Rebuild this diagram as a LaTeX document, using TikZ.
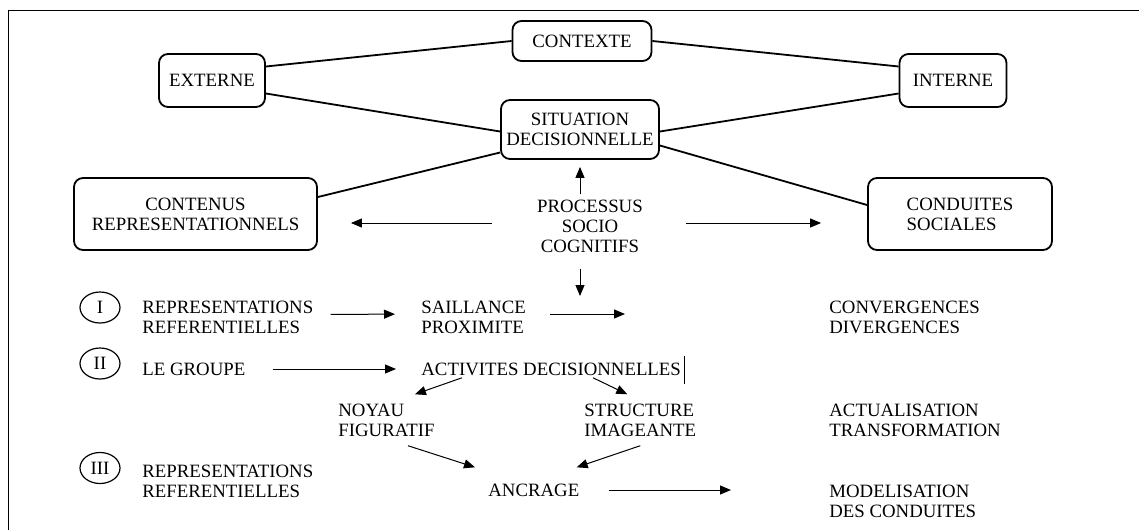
\documentclass[tikz,border=0pt]{standalone}
\usepackage{fontspec}
\setmainfont{Liberation Serif}
\usetikzlibrary{arrows.meta,shapes.geometric}
\begin{document}
\begin{tikzpicture}[x=0.5pt,y=-0.5pt,
				every node/.style={font=\fontsize{9.4}{10}\selectfont,inner sep=0pt},
				bulle/.style={draw,rounded corners=4.5pt,line width=0.9pt,align=center},
				libre/.style={align=left,anchor=west},
				chiffre/.style={draw,ellipse,line width=0.6pt,minimum width=20pt,minimum height=15.5pt},
				lien/.style={line width=0.9pt},
				fleche/.style={line width=0.5pt,-{Triangle[length=5.5pt,width=4.5pt]}}]
\useasboundingbox (0,0) rectangle (1139,530);
\draw[line width=0.5pt] (1139,10) -- (8,10) -- (8,530);
\node[bulle,minimum width=53pt,minimum height=26.5pt] (externe) at (212,80.5) {EXTERNE};
\node[bulle,minimum width=69.5pt,minimum height=20pt] (contexte) at (582,41) {CONTEXTE};
\node[bulle,minimum width=53.5pt,minimum height=26.5pt] (interne) at (953,80.5) {INTERNE};
\node[bulle,minimum width=79pt,minimum height=29.5pt] (situation) at (580,129.5) {SITUATION\\DECISIONNELLE};
\node[bulle,minimum width=121.5pt,minimum height=36pt] (contenus) at (195.5,214) {CONTENUS\\REPRESENTATIONNELS};
\node[bulle,align=left,minimum width=92pt,minimum height=36pt] (conduites) at (960,214) {CONDUITES\\SOCIALES};
\node[align=center] (processus) at (590,226) {PROCESSUS\\SOCIO\\COGNITIFS};
\draw[lien] ([yshift=7pt]externe.east) -- (contexte.west);
\draw[lien] ([yshift=-6.5pt]externe.east) -- ([yshift=-1pt]situation.west);
\draw[lien] (contexte.east) -- ([yshift=7pt]interne.west);
\draw[lien] ([yshift=-6.5pt]interne.west) -- ([yshift=-1pt]situation.east);
\draw[lien] ([yshift=8.5pt]contenus.east) -- ([yshift=-11.5pt]situation.west);
\draw[lien] ([yshift=-8pt]situation.east) -- ([yshift=4.5pt]conduites.west);
\coordinate (pg) at ([yshift=1.5pt]processus.west);
\coordinate (pd) at ([yshift=1.5pt]processus.east);
\coordinate (bas) at (580,296);
\draw[fleche,shorten <=2.5pt,shorten >=3.5pt] (processus.north -| situation.south) -- (situation.south);
\draw[fleche,shorten <=22.5pt,shorten >=16.5pt] (pg) -- (pg -| contenus.east);
\draw[fleche,shorten <=21.5pt,shorten >=23pt] (pd) -- (pd -| conduites.west);
\draw[fleche,shorten <=8pt] (processus.south -| bas) -- (bas);
\node[chiffre] (un) at (100,307.5) {I};
\node[chiffre] (deux) at (100,363.5) {II};
\node[chiffre] (trois) at (100,468) {III};
\node[libre] (rep1) at (142,317.5) {REPRESENTATIONS\\REFERENTIELLES};
\node[libre] (saillance) at (421,317) {SAILLANCE\\PROXIMITE};
\node[libre] (converg) at (829,317) {CONVERGENCES\\DIVERGENCES};
\node[libre] (groupe) at (142,369) {LE GROUPE};
\node[libre] (activites) at (421,369) {ACTIVITES DECISIONNELLES};
\node[libre] (noyau) at (338,420) {NOYAU\\FIGURATIF};
\node[libre] (structure) at (584,420) {STRUCTURE\\IMAGEANTE};
\node[libre] (actualis) at (829,420) {ACTUALISATION\\TRANSFORMATION};
\node[libre] (rep3) at (142,481) {REPRESENTATIONS\\REFERENTIELLES};
\node[libre] (ancrage) at (488,490) {ANCRAGE};
\node[libre] (modelis) at (829,501) {MODELISATION\\DES CONDUITES};
\draw[line width=0.4pt] ([xshift=1.5pt,yshift=3pt]activites.north east) -- ([xshift=1.5pt,yshift=-4pt]activites.south east);
\draw[fleche,shorten <=8.5pt,shorten >=13pt] ([yshift=1.5pt]rep1.east) -- ([yshift=1.5pt]saillance.west);
\draw[fleche,shorten <=12pt,shorten >=102pt] ([yshift=1.5pt]saillance.east) -- ([yshift=1.5pt]saillance.east -| converg.west);
\draw[fleche,shorten <=13.5pt,shorten >=12.5pt] (groupe.east) -- (activites.west);
\draw[fleche] ([xshift=20.5pt,yshift=-1pt]activites.south west) -- ([xshift=-10pt,yshift=4.5pt]noyau.north east);
\draw[fleche] ([xshift=86pt,yshift=-1pt]activites.south west) -- ([xshift=-6.5pt,yshift=4.5pt]structure.north);
\draw[fleche] ([xshift=10.75pt,yshift=-4.5pt]noyau.south) -- ([xshift=-6.5pt,yshift=8pt]ancrage.north west);
\draw[fleche] ([yshift=-4.5pt]structure.south) -- ([xshift=-1.5pt,yshift=8pt]ancrage.north east);
\draw[fleche,shorten <=14.5pt,shorten >=49pt] (ancrage.east) -- (ancrage.east -| modelis.west);
\end{tikzpicture}
\end{document}
